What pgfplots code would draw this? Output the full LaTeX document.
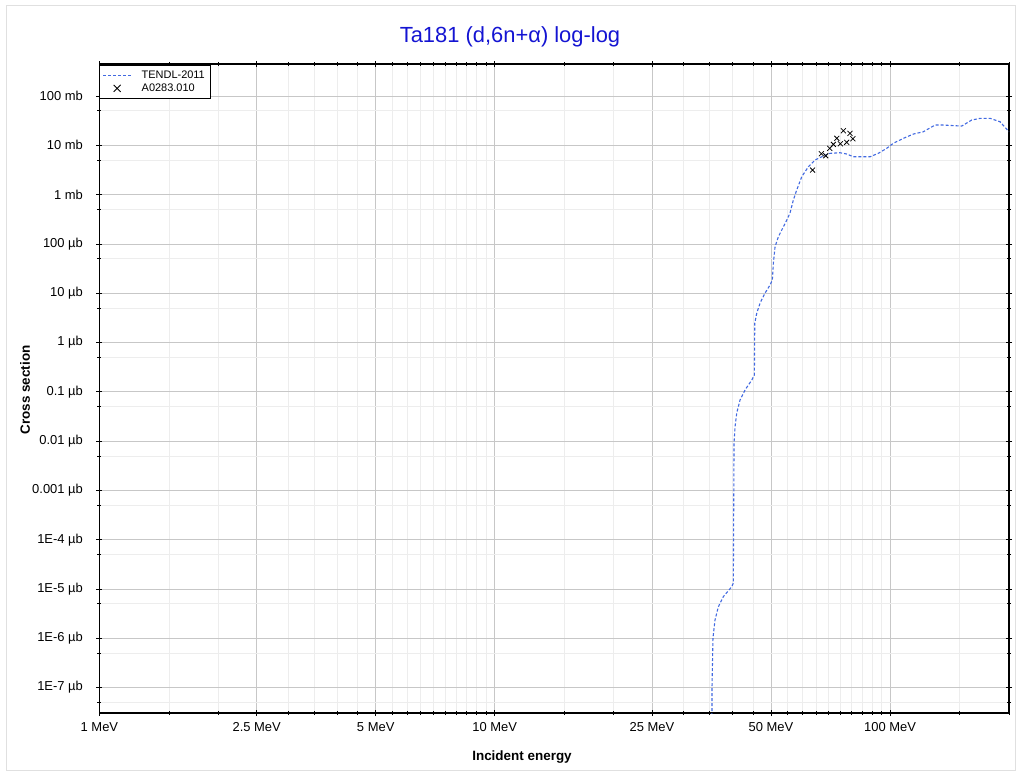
\documentclass[border=0pt]{standalone}
\usepackage{pgfplots}
\pgfplotsset{compat=1.18}
\usepackage{fontspec}
\setmainfont{Liberation Sans}
\definecolor{tendl}{RGB}{65,105,225}
\definecolor{titleblue}{RGB}{20,20,210}
\pgfplotsset{
 every axis title shift=0pt,
 tendlleg/.style={legend image code/.code={\path[draw=none,fill=none] (0bp,-3bp) rectangle (28bp,3bp);\draw[color=tendl, line width=1.1bp, dash pattern=on 3bp off 2bp] (0bp,0bp) -- (28bp,0bp);}},
 expleg/.style={legend image code/.code={\path[draw=none,fill=none] (0bp,-3bp) rectangle (28bp,3bp);\draw[color=black, solid, line width=0.8bp] (14bp,0bp) +(-3.5bp,-3.5bp) -- +(3.5bp,3.5bp) +(-3.5bp,3.5bp) -- +(3.5bp,-3.5bp);}},
}
\begin{document}
\begin{tikzpicture}
\useasboundingbox (0,0) rectangle (1020bp,774bp);
\draw[black!12] (6bp,4bp) rectangle (1015bp,769bp);
\begin{axis}[
 at={(99.4bp,61bp)}, anchor=south west, scale only axis,
 width=909.6bp, height=649bp,
 xmode=log, ymode=log, xmin=1, xmax=200, ymin=3.05e-11, ymax=447,
 xtick={1,2.5,5,10,25,50,100},
 xticklabels={1 MeV,2.5 MeV,5 MeV,10 MeV,25 MeV,50 MeV,100 MeV},
 minor xtick={1.5,2,3,3.5,4,4.5,5.5,6,6.5,7,7.5,8,8.5,9,9.5,15,20,30,35,40,45,55,60,65,70,75,80,85,90,95,150,200},
 ytick={1e-10,1e-9,1e-8,1e-7,1e-6,1e-5,1e-4,1e-3,1e-2,0.1,1,10,100},
 yticklabels={1E-7 µb,1E-6 µb,1E-5 µb,1E-4 µb,0.001 µb,0.01 µb,0.1 µb,1 µb,10 µb,100 µb,1 mb,10 mb,100 mb},
 minor ytick={5e-11,5e-10,5e-9,5e-8,5e-7,5e-6,5e-5,5e-4,5e-3,5e-2,0.5,5,50},
 grid=both, major grid style={draw=black!22, line width=0.8bp}, minor grid style={draw=black!7, line width=0.8bp},
 tick align=center, major tick length=6bp, minor tick length=4bp,
 tick style={black, line width=0.8bp},
 axis line style={line width=1.2bp},
 ticklabel style={font=\fontsize{13}{15}\selectfont},
 xticklabel style={yshift=-3bp},
 yticklabel style={xshift=-10bp},
 title={\textcolor{titleblue}{Ta181 (d,6n+α) log-log}},
 title style={at={(axis description cs:0.4514,1.0416)}, anchor=center, font=\fontsize{22}{26}\selectfont},
 xlabel={Incident energy}, ylabel={Cross section},
 xlabel style={at={(axis description cs:0.4646,-0.0678)}, anchor=center, font=\bfseries\fontsize{13.5}{15}\selectfont},
 ylabel style={at={(axis description cs:-0.0818,0.4977)}, anchor=center, font=\bfseries\fontsize{13.5}{15}\selectfont},
 legend style={at={(0,1)}, anchor=north west, yshift=-1bp, font=\fontsize{11}{13}\selectfont, draw=black, fill=white, inner xsep=3bp, inner ysep=3.5bp, row sep=0bp, cells={anchor=west}, /tikz/every odd column/.append style={column sep=8bp}},
 clip=true,
]
\addplot[color=tendl, line width=1.1bp, dash pattern=on 3bp off 2bp, no markers, tendlleg] coordinates {
(35.40,1e-12)
(35.46,1.05e-10)
(35.66,1.02e-9)
(36.08,2.34e-9)
(36.78,4.32e-9)
(37.87,6.98e-9)
(39.77,1.11e-8)
(40.15,1.32e-8)
(40.31,9.14e-6)
(40.55,1.96e-5)
(40.95,3.72e-5)
(41.74,6.82e-5)
(42.98,1.09e-4)
(44.69,1.73e-4)
(45.38,2.19e-4)
(45.49,2.49e-3)
(46.02,3.96e-3)
(46.91,6.32e-3)
(48.30,1.01e-2)
(49.72,1.47e-2)
(50.39,1.85e-2)
(50.69,4.10e-2)
(51.19,8.77e-2)
(52.19,0.140)
(53.73,0.223)
(54.81,0.305)
(55.85,0.424)
(56.94,0.776)
(58.08,1.24)
(59.80,2.31)
(62.15,3.68)
(64.63,5.04)
(67.20,5.87)
(70.52,6.89)
(74.74,7.08)
(77.71,6.67)
(80.76,5.87)
(89.02,5.87)
(93.43,6.89)
(98.08,8.69)
(101.9,10.99)
(108.1,13.87)
(114.6,16.94)
(121.4,18.88)
(130.0,25.82)
(136.4,25.82)
(151.8,24.60)
(160.9,32.58)
(168.9,35.32)
(179.1,35.32)
(189.8,30.13)
(200,18.88)
};
\addlegendentry{TENDL-2011}
\addplot[only marks, mark=x, mark size=3.5bp, color=black, line width=0.8bp, mark options={line width=0.8bp}, expleg] coordinates {
(63.68,3.15)
(67.04,6.76)
(68.78,6.15)
(70.41,8.69)
(71.90,10.47)
(73.37,13.87)
(74.89,10.77)
(76.21,19.78)
(77.71,11.50)
(79.21,17.50)
(80.52,13.61)
};
\addlegendentry{A0283.010}
\end{axis}
\end{tikzpicture}
\end{document}
